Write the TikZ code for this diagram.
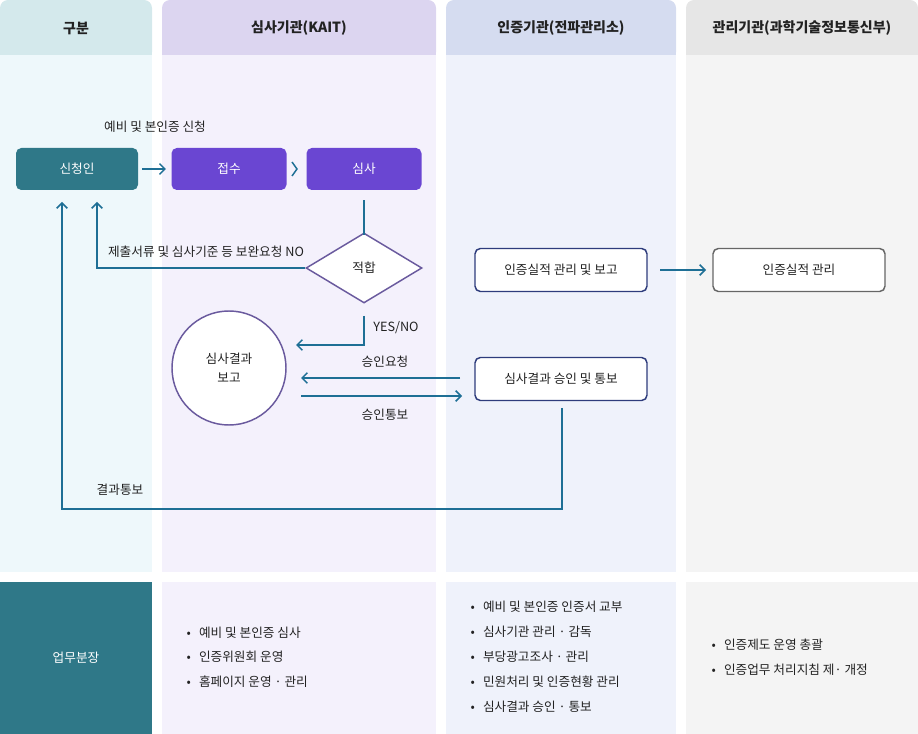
\documentclass[tikz,border=0pt]{standalone}
\usepackage{fontspec}
\setmainfont{Noto Sans CJK KR}
\usetikzlibrary{shapes.geometric,arrows.meta}
\definecolor{hA}{HTML}{D4E9EC}\definecolor{hB}{HTML}{DCD5F0}\definecolor{hC}{HTML}{D5DCF0}\definecolor{hD}{HTML}{E6E6E6}
\definecolor{bA}{HTML}{EEF8FB}\definecolor{bB}{HTML}{F4F1FC}\definecolor{bC}{HTML}{EFF2FB}\definecolor{bD}{HTML}{F4F4F4}
\definecolor{teal}{HTML}{2F7888}\definecolor{purp}{HTML}{6A46D2}\definecolor{navy}{HTML}{2E3C7C}
\definecolor{arr}{HTML}{1E6F95}\definecolor{txt}{HTML}{222222}\definecolor{dpurp}{HTML}{6A5A9E}
\begin{document}
\begin{tikzpicture}[x=0.75pt,y=-0.75pt,font=\fontsize{9.5}{11}\selectfont,
 box/.style={rounded corners=4pt,minimum width=115*0.75pt,minimum height=42*0.75pt,text=white,inner sep=0},
 wbox/.style={rounded corners=4pt,fill=white,draw=navy,line width=1.1pt,minimum width=172*0.75pt,minimum height=43*0.75pt,text=txt,inner sep=0},
 hd/.style={font=\fontsize{10.5}{12}\selectfont\bfseries,text=txt},
 ar/.style={draw=arr,line width=1.1pt,-{Straight Barb[length=4pt,width=8pt]}},
 ln/.style={draw=arr,line width=1.1pt},
 lb/.style={text=txt},
 bl/.style={text=txt,anchor=west}]
\useasboundingbox (0,0) rectangle (918,734);
% columns
\foreach \a/\b/\h/\c in {0/152/hA/bA,162/436/hB/bB,446/676/hC/bC,686/918/hD/bD}{
 \fill[\h,rounded corners=6pt] (\a,0) rectangle (\b,60);
 \fill[\h] (\a,30) rectangle (\b,55);
 \fill[\c] (\a,55) rectangle (\b,572);
}
\fill[teal] (0,582) rectangle (152,734);
\fill[bB] (162,582) rectangle (436,734);
\fill[bC] (446,582) rectangle (676,734);
\fill[bD] (686,582) rectangle (918,734);
\node[hd] (h1) at (76,28) {구분};
\node[hd] (h2) at (299,28) {심사기관(KAIT)};
\node[hd] (h3) at (561,28) {인증기관(전파관리소)};
\node[hd] (h4) at (802,28) {관리기관(과학기술정보통신부)};
% nodes
\node[box,fill=teal,minimum width=122*0.75pt] (a) at (77,169) {신청인};
\node[box,fill=purp] (b) at (229,169) {접수};
\node[box,fill=purp] (c) at (364,169) {심사};
\node[diamond,draw=dpurp,fill=white,line width=1.1pt,minimum width=116*0.75pt,minimum height=70*0.75pt,inner sep=0,aspect=1.66,text=txt] (d) at (364,268) {적합};
\node[circle,draw=dpurp,fill=white,line width=1.1pt,minimum size=114*0.75pt,align=center,text=txt,inner sep=0] (e) at (229,368) {심사결과\\[3pt]보고};
\node[wbox] (f) at (561,270) {인증실적 관리 및 보고};
\node[wbox] (g) at (561,379) {심사결과 승인 및 통보};
\node[wbox,draw=gray!80!black] (h) at (799,270) {인증실적 관리};
% connectors
\node[lb] (l1) at (155,127) {예비 및 본인증 신청};
\draw[ar] (a.east)++(4,0) coordinate (a1) -- ([xshift=-4]b.west);
\draw[ln] (292,162) -- (297,169) -- (292,176);
\draw[ln] (c.south)++(0,10) -- ([yshift=-2]d.north);
\draw[ar] (d.west) -- (97,268) -- (97,202);
\node[lb] (l2) at (206,252) {제출서류 및 심사기준 등 보완요청 NO};
\draw[ar] (364,316) -- (364,345) -- (296,345);
\node[lb] (l3) at (396,328) {YES/NO};
\draw[ar] (460,378) -- (301,378);
\node[lb] (l4) at (385,362) {승인요청};
\draw[ar] (301,396) -- (462,396);
\node[lb] (l5) at (385,415) {승인통보};
\draw[ar] (562,408) -- (562,509) -- (62,509) -- (62,202);
\node[lb] (l6) at (120,490) {결과통보};
\draw[ar] (660,270) -- (706,270);
% bottom
\node[text=white] (w) at (76,658) {업무분장};
\foreach \y/\t in {633/예비 및 본인증 심사,657/인증위원회 운영,682/홈페이지 운영 · 관리}
 \node[bl] at (182,\y) {•\hspace{6pt}\t};
\foreach \y/\t in {607/예비 및 본인증 인증서 교부,632/심사기관 관리 · 감독,657/부당광고조사 · 관리,682/민원처리 및 인증현황 관리,707/심사결과 승인 · 통보}
 \node[bl] at (466,\y) {•\hspace{6pt}\t};
\foreach \y/\t in {645/인증제도 운영 총괄,670/인증업무 처리지침 제· 개정}
 \node[bl] at (707,\y) {•\hspace{6pt}\t};
\end{tikzpicture}
\end{document}
